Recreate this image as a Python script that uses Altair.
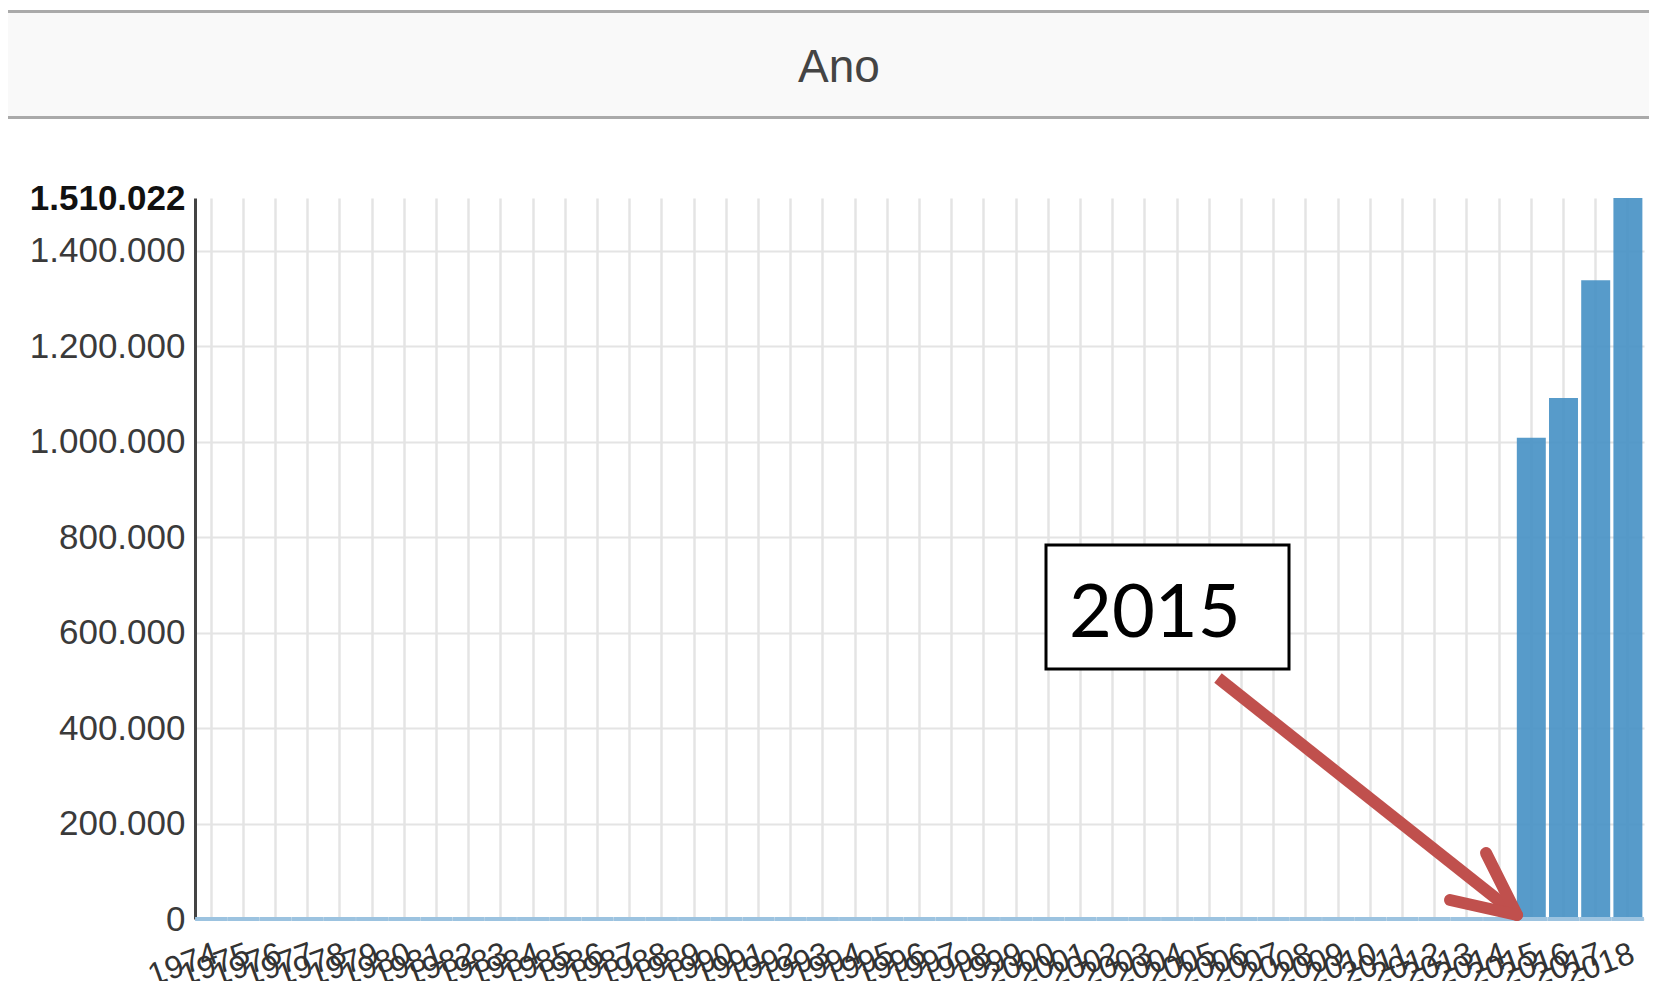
import altair as alt
import pandas as pd

anos = ["1974", "1975", "1976", "1977", "1978", "1979", "1980", "1981", "1982",
        "1983", "1984", "1985", "1986", "1987", "1988", "1989", "1990", "1991",
        "1992", "1993", "1994", "1995", "1996", "1997", "1998", "1999", "2000",
        "2001", "2002", "2003", "2004", "2005", "2006", "2007", "2008", "2009",
        "2010", "2011", "2012", "2013", "2014", "2015", "2016", "2017", "2018"]
valores = [0, 0, 0, 0, 0, 0, 0, 0, 0,
           0, 0, 0, 0, 0, 0, 0, 0, 0,
           0, 0, 0, 0, 0, 0, 0, 0, 0,
           0, 0, 0, 0, 0, 0, 0, 0, 0,
           0, 0, 0, 0, 0, 1008000, 1091000, 1338000, 1510022]
y_ticks = [0, 200000, 400000, 600000, 800000, 1000000, 1200000, 1400000, 1510022]
y_max = 1510022

df = pd.DataFrame({"Ano": anos, "Valor": valores})
one = pd.DataFrame({"k": [0]})

W, H = 1449, 721

label_expr = "replace(format(datum.value, ','), regexp(',', 'g'), '.')"

base = alt.Chart(df).encode(
    x=alt.X(
        "Ano:O", sort=anos,
        scale=alt.Scale(paddingInner=0.1, paddingOuter=0.05),
        axis=alt.Axis(
            title=None, grid=True, bandPosition=0.5, ticks=False, domain=False,
            labelAngle=-20, labelFontSize=32, labelPadding=19, labelOverlap=False,
            labelColor="#333333", labelFont="Liberation Sans",
            labelAlign="right", labelBaseline="top",
            gridColor="#e4e4e4", gridWidth=2.5,
        ),
    )
)

bars = base.mark_bar(color="#4590c4", opacity=0.9).encode(
    y=alt.Y(
        "Valor:Q",
        scale=alt.Scale(domain=[0, y_max], nice=False, zero=True),
        axis=alt.Axis(
            title=None, values=y_ticks, labelExpr=label_expr, ticks=False,
            labelFont="Liberation Sans", labelFontSize=35, labelPadding=10,
            labelColor={"condition": {"test": "datum.value == 1510022", "value": "#111111"}, "value": "#3a3a3a"},
            labelFontWeight={"condition": {"test": "datum.value == 1510022", "value": "bold"}, "value": "normal"},
            domainColor="#444444", domainWidth=3,
            gridColor="#e4e4e4", gridWidth=2,
            gridOpacity={"condition": {"test": "datum.value == 1510022", "value": 0}, "value": 1},
        ),
    )
)

strip = base.mark_tick(color="#9cc3e0", thickness=4, size=32, opacity=1).encode(
    y=alt.datum(0)
)

hdr = alt.Chart(one).mark_rect(color="#f9f9f9").encode(
    x=alt.value(-187), x2=alt.value(W + 5), y=alt.value(-188), y2=alt.value(-79)
)
hdr_top = alt.Chart(one).mark_rule(color="#aaaaaa", strokeWidth=3).encode(
    x=alt.value(-187), x2=alt.value(W + 5), y=alt.value(-186.5)
)
hdr_bot = alt.Chart(one).mark_rule(color="#aaaaaa", strokeWidth=3).encode(
    x=alt.value(-187), x2=alt.value(W + 5), y=alt.value(-80.5)
)
hdr_txt = alt.Chart(one).mark_text(
    text="Ano", font="Liberation Sans", fontSize=46, color="#444444",
    align="center", baseline="alphabetic"
).encode(x=alt.value(644), y=alt.value(-116))

box = alt.Chart(one).mark_rect(fill="white", stroke="black", strokeWidth=3).encode(
    x=alt.value(851), x2=alt.value(1094), y=alt.value(347), y2=alt.value(471)
)
box_txt = alt.Chart(one).mark_text(
    text="2015", font="Lato", fontSize=74, color="black",
    align="left", baseline="alphabetic"
).encode(x=alt.value(874), y=alt.value(439))

red = "#c0504d"
shaft = alt.Chart(one).mark_rule(color=red, strokeWidth=12, strokeCap="butt").encode(
    x=alt.value(1023), y=alt.value(480), x2=alt.value(1322), y2=alt.value(717)
)
arm1 = alt.Chart(one).mark_rule(color=red, strokeWidth=12, strokeCap="round").encode(
    x=alt.value(1291), y=alt.value(655), x2=alt.value(1322), y2=alt.value(717)
)
arm2 = alt.Chart(one).mark_rule(color=red, strokeWidth=12, strokeCap="round").encode(
    x=alt.value(1255), y=alt.value(702), x2=alt.value(1322), y2=alt.value(717)
)

chart = alt.layer(
    bars, strip, hdr, hdr_top, hdr_bot, hdr_txt, box, box_txt, shaft, arm1, arm2
).properties(
    width=W, height=H,
    autosize=alt.AutoSizeParams(type="none"),
    padding={"left": 187, "top": 190, "right": 5, "bottom": 62},
).configure_view(strokeWidth=0)

chart.save("out.html", embed_options={"renderer": "svg", "actions": False})
